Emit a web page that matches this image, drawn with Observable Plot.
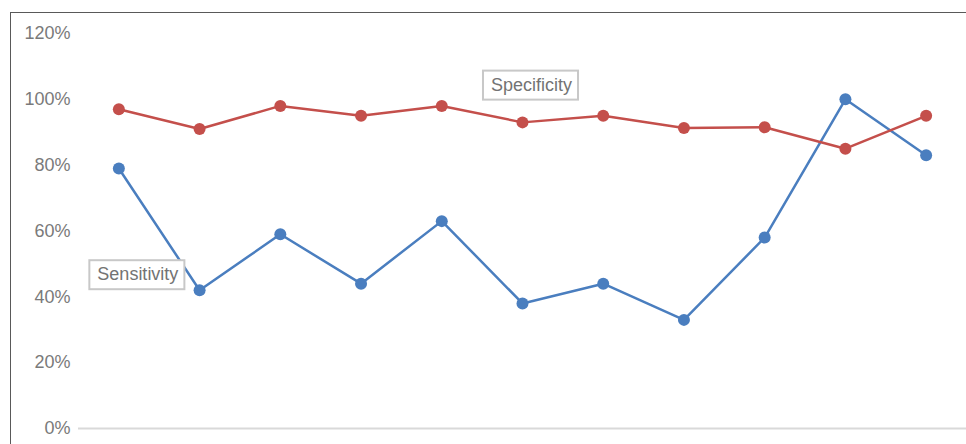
<!DOCTYPE html>
<html>
<head>
<meta charset="utf-8">
<script src="https://cdn.jsdelivr.net/npm/d3@7"></script>
<script src="https://cdn.jsdelivr.net/npm/@observablehq/plot@0.6"></script>
<style>
  html, body { margin: 0; padding: 0; background: #fff; overflow: hidden; }
  #wrap { position: relative; width: 966px; height: 444px; }
  #frame {
    position: absolute; left: 10px; top: 12px; width: 1000px; height: 500px;
    border-left: 1.5px solid #595959; border-top: 1.5px solid #595959;
    box-sizing: border-box; pointer-events: none;
  }
  #chart { position: absolute; left: 0; top: 0; }
</style>
</head>
<body>
<div id="wrap"><div id="chart"></div><div id="frame"></div></div>
<script>
// Groups along the horizontal axis (no labels shown)
const categories = [1, 2, 3, 4, 5, 6, 7, 8, 9, 10, 11];
// Sensitivity per group
const sensitivity = [0.79, 0.42, 0.59, 0.44, 0.63, 0.38, 0.44, 0.33, 0.58, 1.00, 0.83];
// Specificity per group
const specificity = [0.97, 0.91, 0.98, 0.95, 0.98, 0.93, 0.95, 0.913, 0.915, 0.85, 0.95];
// Y axis tick values
const yTicks = [0, 0.2, 0.4, 0.6, 0.8, 1.0, 1.2];
// Series name labels: name, anchor group, anchor value, horizontal offset
const seriesLabels = [
  {name: "Sensitivity", cat: 1, value: 0.468, dx: 19},
  {name: "Specificity", cat: 6, value: 1.044, dx: 9}
];

const rows = [];
categories.forEach((c, i) => {
  rows.push({cat: c, series: "Sensitivity", value: sensitivity[i]});
  rows.push({cat: c, series: "Specificity", value: specificity[i]});
});

const colors = {Sensitivity: "#4a7ebf", Specificity: "#c44f4b"};

const plot = Plot.plot({
  width: 966,
  height: 444,
  marginLeft: 78,
  marginRight: 0,
  marginTop: 33,
  marginBottom: 16,
  style: {fontFamily: "'Liberation Sans', Arial, sans-serif", fontSize: "18px", color: "#7a7a7a", background: "transparent"},
  x: {type: "point", domain: categories, padding: 0.5, round: false, axis: null},
  y: {domain: [0, 1.2], axis: null},
  marks: [
    Plot.ruleY([0], {stroke: "#d9d9d9", strokeWidth: 2}),
    Plot.axisY({ticks: yTicks, tickSize: 0, tickPadding: 8, tickFormat: d3.format(".0%"), fontSize: 18, label: null}),
    Plot.line(rows, {x: "cat", y: "value", z: "series", stroke: d => colors[d.series], strokeWidth: 2.5}),
    Plot.dot(rows, {x: "cat", y: "value", fill: d => colors[d.series], r: 6, stroke: "none"}),
    Plot.text(seriesLabels, {x: "cat", y: "value", dx: 0, text: "name", fill: "#737373", fontSize: 18, className: "series-label"})
  ]
});

document.getElementById("chart").appendChild(plot);

// Shift each series label by its offset, then draw a bordered box behind it
const labelNodes = d3.select(plot).selectAll("g.series-label text").nodes();
labelNodes.forEach((node, i) => {
  const lab = seriesLabels[i];
  const t = `${node.getAttribute("transform") || ""} translate(${lab.dx},0)`;
  node.setAttribute("transform", t);
  const b = node.getBBox();
  const padL = 8, padR = 6, padY = 5;
  d3.select(node.parentNode).insert("rect", () => node)
    .attr("x", b.x - padL)
    .attr("y", b.y - padY + 1)
    .attr("width", b.width + padL + padR)
    .attr("height", b.height + 2 * padY - 1)
    .attr("transform", t)
    .attr("fill", "#fff")
    .attr("stroke", "#c8c8c8")
    .attr("stroke-width", 2);
});
</script>
</body>
</html>
